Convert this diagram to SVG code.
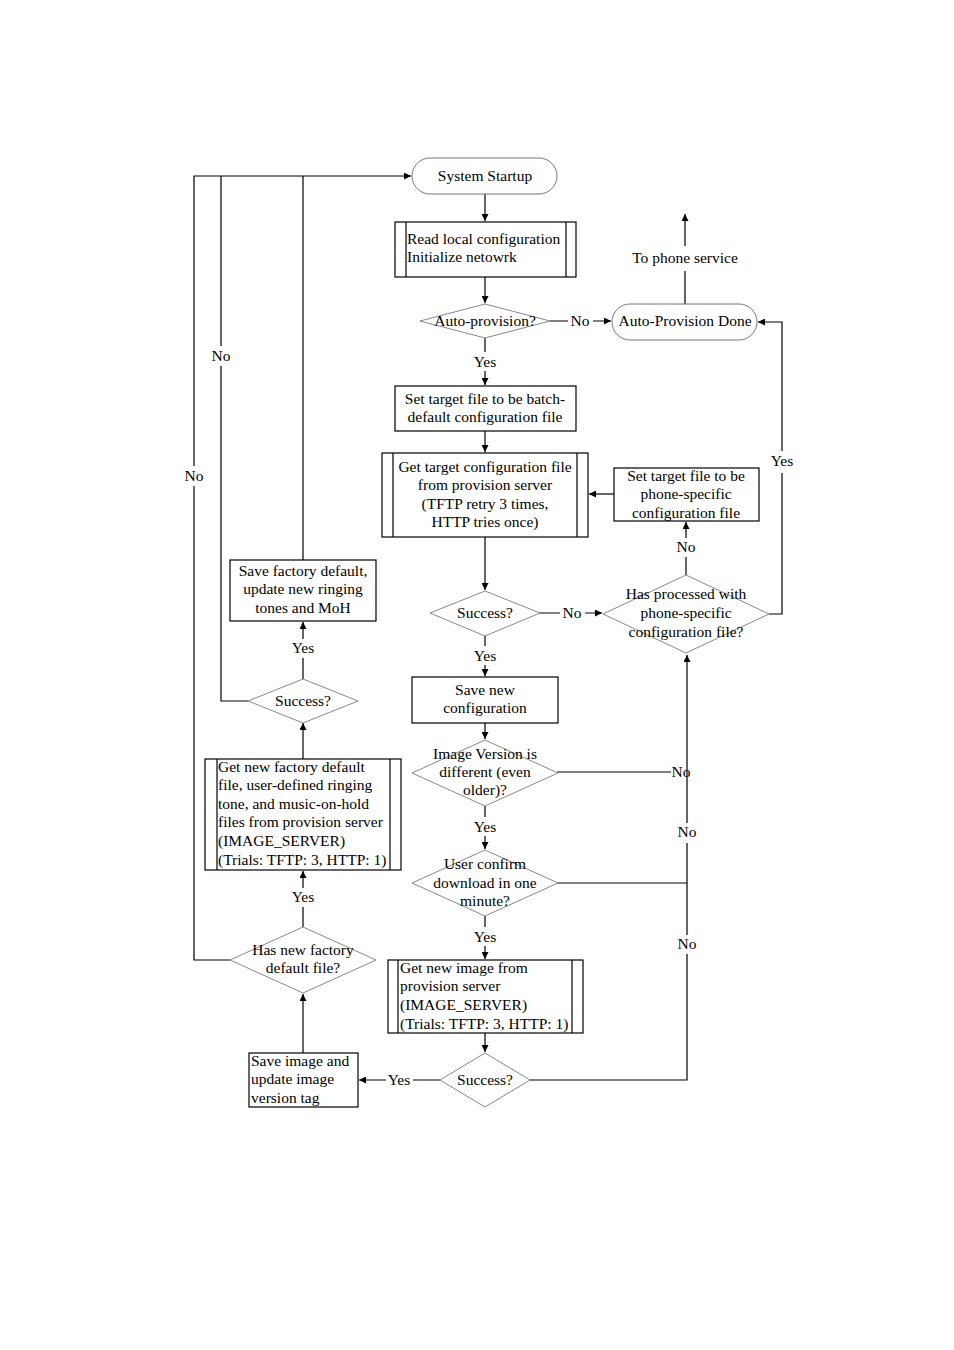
<svg xmlns="http://www.w3.org/2000/svg" width="954" height="1350" viewBox="0 0 954 1350">
<style>
text{font-family:"Liberation Serif","Times New Roman",serif;font-size:15.5px;fill:#000}
.c{text-anchor:middle}
.box{fill:#fff;stroke:#000;stroke-width:1.2}
.dia{fill:#fff;stroke:#888;stroke-width:1}
.pill{fill:#fff;stroke:#777;stroke-width:1}
.ln{fill:none;stroke:#000;stroke-width:1.2}
</style>
<defs>
<marker id="ar" viewBox="0 0 10 10" refX="10" refY="5" markerWidth="7" markerHeight="7" orient="auto" markerUnits="userSpaceOnUse"><path d="M0,0 L10,5 L0,10 z" fill="#000"/></marker>
</defs>
<rect width="954" height="1350" fill="#fff"/>
<g id="connectors">
<path class="ln" d="M485,194 V221" marker-end="url(#ar)"/>
<path class="ln" d="M485,277 V303" marker-end="url(#ar)"/>
<path class="ln" d="M550,321 H568 M593,321 H611" marker-end="url(#ar)"/>
<path class="ln" d="M685,304 V271 M685,246 V214" marker-end="url(#ar)"/>
<path class="ln" d="M769,614 H782 V473 M782,451 V322 H758" marker-end="url(#ar)"/>
<path class="ln" d="M485,338 V352 M485,371 V385" marker-end="url(#ar)"/>
<path class="ln" d="M485,431 V452" marker-end="url(#ar)"/>
<path class="ln" d="M614,494 H589" marker-end="url(#ar)"/>
<path class="ln" d="M686,575 V557 M686,538 V522" marker-end="url(#ar)"/>
<path class="ln" d="M485,537 V590" marker-end="url(#ar)"/>
<path class="ln" d="M540,613 H560 M585,613 H602" marker-end="url(#ar)"/>
<path class="ln" d="M485,636 V646 M485,665 V676" marker-end="url(#ar)"/>
<path class="ln" d="M485,723 V739" marker-end="url(#ar)"/>
<path class="ln" d="M557,772 H671"/>
<path class="ln" d="M485,806 V817 M485,836 V849" marker-end="url(#ar)"/>
<path class="ln" d="M557,883 H687"/>
<path class="ln" d="M485,916 V927 M485,946 V959" marker-end="url(#ar)"/>
<path class="ln" d="M485,1033 V1052" marker-end="url(#ar)"/>
<path class="ln" d="M530,1080 H687 V954 M687,935 V843 M687,823 V655" marker-end="url(#ar)"/>
<path class="ln" d="M440,1080 H413 M386,1080 H359" marker-end="url(#ar)"/>
<path class="ln" d="M303,1053 V994" marker-end="url(#ar)"/>
<path class="ln" d="M303,927 V907 M303,888 V871" marker-end="url(#ar)"/>
<path class="ln" d="M303,759 V723" marker-end="url(#ar)"/>
<path class="ln" d="M303,679 V658 M303,639 V622" marker-end="url(#ar)"/>
<path class="ln" d="M303,560 V176"/>
<path class="ln" d="M248,701 H221 V366 M221,346 V176"/>
<path class="ln" d="M230,960 H194 V486 M194,466 V176 H411" marker-end="url(#ar)"/>
</g>
<g id="labels">
<text class="c" x="580" y="326">No</text>
<text class="c" x="685" y="263">To phone service</text>
<text class="c" x="782" y="466">Yes</text>
<text class="c" x="485" y="367">Yes</text>
<text class="c" x="686" y="552">No</text>
<text class="c" x="572" y="618">No</text>
<text class="c" x="485" y="661">Yes</text>
<text class="c" x="681" y="777">No</text>
<text class="c" x="485" y="832">Yes</text>
<text class="c" x="687" y="837">No</text>
<text class="c" x="485" y="942">Yes</text>
<text class="c" x="687" y="949">No</text>
<text class="c" x="399" y="1085">Yes</text>
<text class="c" x="303" y="902">Yes</text>
<text class="c" x="303" y="653">Yes</text>
<text class="c" x="221" y="361">No</text>
<text class="c" x="194" y="481">No</text>
</g>
<g id="system-startup">
<rect class="pill" x="412" y="158" width="145" height="36" rx="18"/>
<text class="c" x="485" y="181">System Startup</text>
</g>
<g id="read-local">
<rect class="box" x="395" y="222" width="181" height="55"/>
<path class="ln" d="M406,222 V277 M566,222 V277"/>
<text x="407" y="244">Read local configuration</text>
<text x="407" y="262">Initialize netowrk</text>
</g>
<g id="auto-provision">
<polygon class="dia" points="420,321 485,304 550,321 485,338"/>
<text class="c" x="485" y="326">Auto-provision?</text>
</g>
<g id="auto-provision-done">
<rect class="pill" x="612" y="304" width="145" height="36" rx="18"/>
<text class="c" x="685" y="326">Auto-Provision Done</text>
</g>
<g id="set-batch">
<rect class="box" x="395" y="386" width="181" height="45"/>
<text class="c" x="485" y="404">Set target file to be batch-</text>
<text class="c" x="485" y="422">default configuration file</text>
</g>
<g id="get-target">
<rect class="box" x="382" y="453" width="206" height="84"/>
<path class="ln" d="M393,453 V537 M577,453 V537"/>
<text class="c" x="485" y="472">Get target configuration file</text>
<text class="c" x="485" y="490">from provision server</text>
<text class="c" x="485" y="509">(TFTP retry 3 times,</text>
<text class="c" x="485" y="527">HTTP tries once)</text>
</g>
<g id="set-phone">
<rect class="box" x="614" y="468" width="145" height="53"/>
<text class="c" x="686" y="481">Set target file to be</text>
<text class="c" x="686" y="499">phone-specific</text>
<text class="c" x="686" y="518">configuration file</text>
</g>
<g id="has-processed">
<polygon class="dia" points="603,614 686,575 769,614 686,653"/>
<text class="c" x="686" y="599">Has processed with</text>
<text class="c" x="686" y="618">phone-specific</text>
<text class="c" x="686" y="637">configuration file?</text>
</g>
<g id="success-config">
<polygon class="dia" points="430,613 485,591 540,613 485,636"/>
<text class="c" x="485" y="618">Success?</text>
</g>
<g id="save-config">
<rect class="box" x="412" y="677" width="146" height="46"/>
<text class="c" x="485" y="695">Save new</text>
<text class="c" x="485" y="713">configuration</text>
</g>
<g id="image-version">
<polygon class="dia" points="412,773 485,740 558,773 485,806"/>
<text class="c" x="485" y="759">Image Version is</text>
<text class="c" x="485" y="777">different (even</text>
<text class="c" x="485" y="795">older)?</text>
</g>
<g id="user-confirm">
<polygon class="dia" points="412,883 485,850 558,883 485,916"/>
<text class="c" x="485" y="869">User confirm</text>
<text class="c" x="485" y="888">download in one</text>
<text class="c" x="485" y="906">minute?</text>
</g>
<g id="get-image">
<rect class="box" x="388" y="960" width="195" height="73"/>
<path class="ln" d="M398,960 V1033 M572,960 V1033"/>
<text x="400" y="973">Get new image from</text>
<text x="400" y="991">provision server</text>
<text x="400" y="1010">(IMAGE_SERVER)</text>
<text x="400" y="1029">(Trials: TFTP: 3, HTTP: 1)</text>
</g>
<g id="success-image">
<polygon class="dia" points="440,1080 485,1053 530,1080 485,1107"/>
<text class="c" x="485" y="1085">Success?</text>
</g>
<g id="save-image">
<rect class="box" x="249" y="1053" width="109" height="54"/>
<text x="251" y="1066">Save image and</text>
<text x="251" y="1084">update image</text>
<text x="251" y="1103">version tag</text>
</g>
<g id="has-factory">
<polygon class="dia" points="230,960 303,927 376,960 303,993"/>
<text class="c" x="303" y="955">Has new factory</text>
<text class="c" x="303" y="973">default file?</text>
</g>
<g id="get-factory">
<rect class="box" x="205" y="759" width="196" height="111"/>
<path class="ln" d="M217,759 V870 M390,759 V870"/>
<text x="218" y="772">Get new factory default</text>
<text x="218" y="790">file, user-defined ringing</text>
<text x="218" y="809">tone, and music-on-hold</text>
<text x="218" y="827">files from provision server</text>
<text x="218" y="846">(IMAGE_SERVER)</text>
<text x="218" y="865">(Trials: TFTP: 3, HTTP: 1)</text>
</g>
<g id="success-factory">
<polygon class="dia" points="248,701 303,679 358,701 303,723"/>
<text class="c" x="303" y="706">Success?</text>
</g>
<g id="save-factory">
<rect class="box" x="230" y="560" width="146" height="61"/>
<text class="c" x="303" y="576">Save factory default,</text>
<text class="c" x="303" y="594">update new ringing</text>
<text class="c" x="303" y="613">tones and MoH</text>
</g>
</svg>
